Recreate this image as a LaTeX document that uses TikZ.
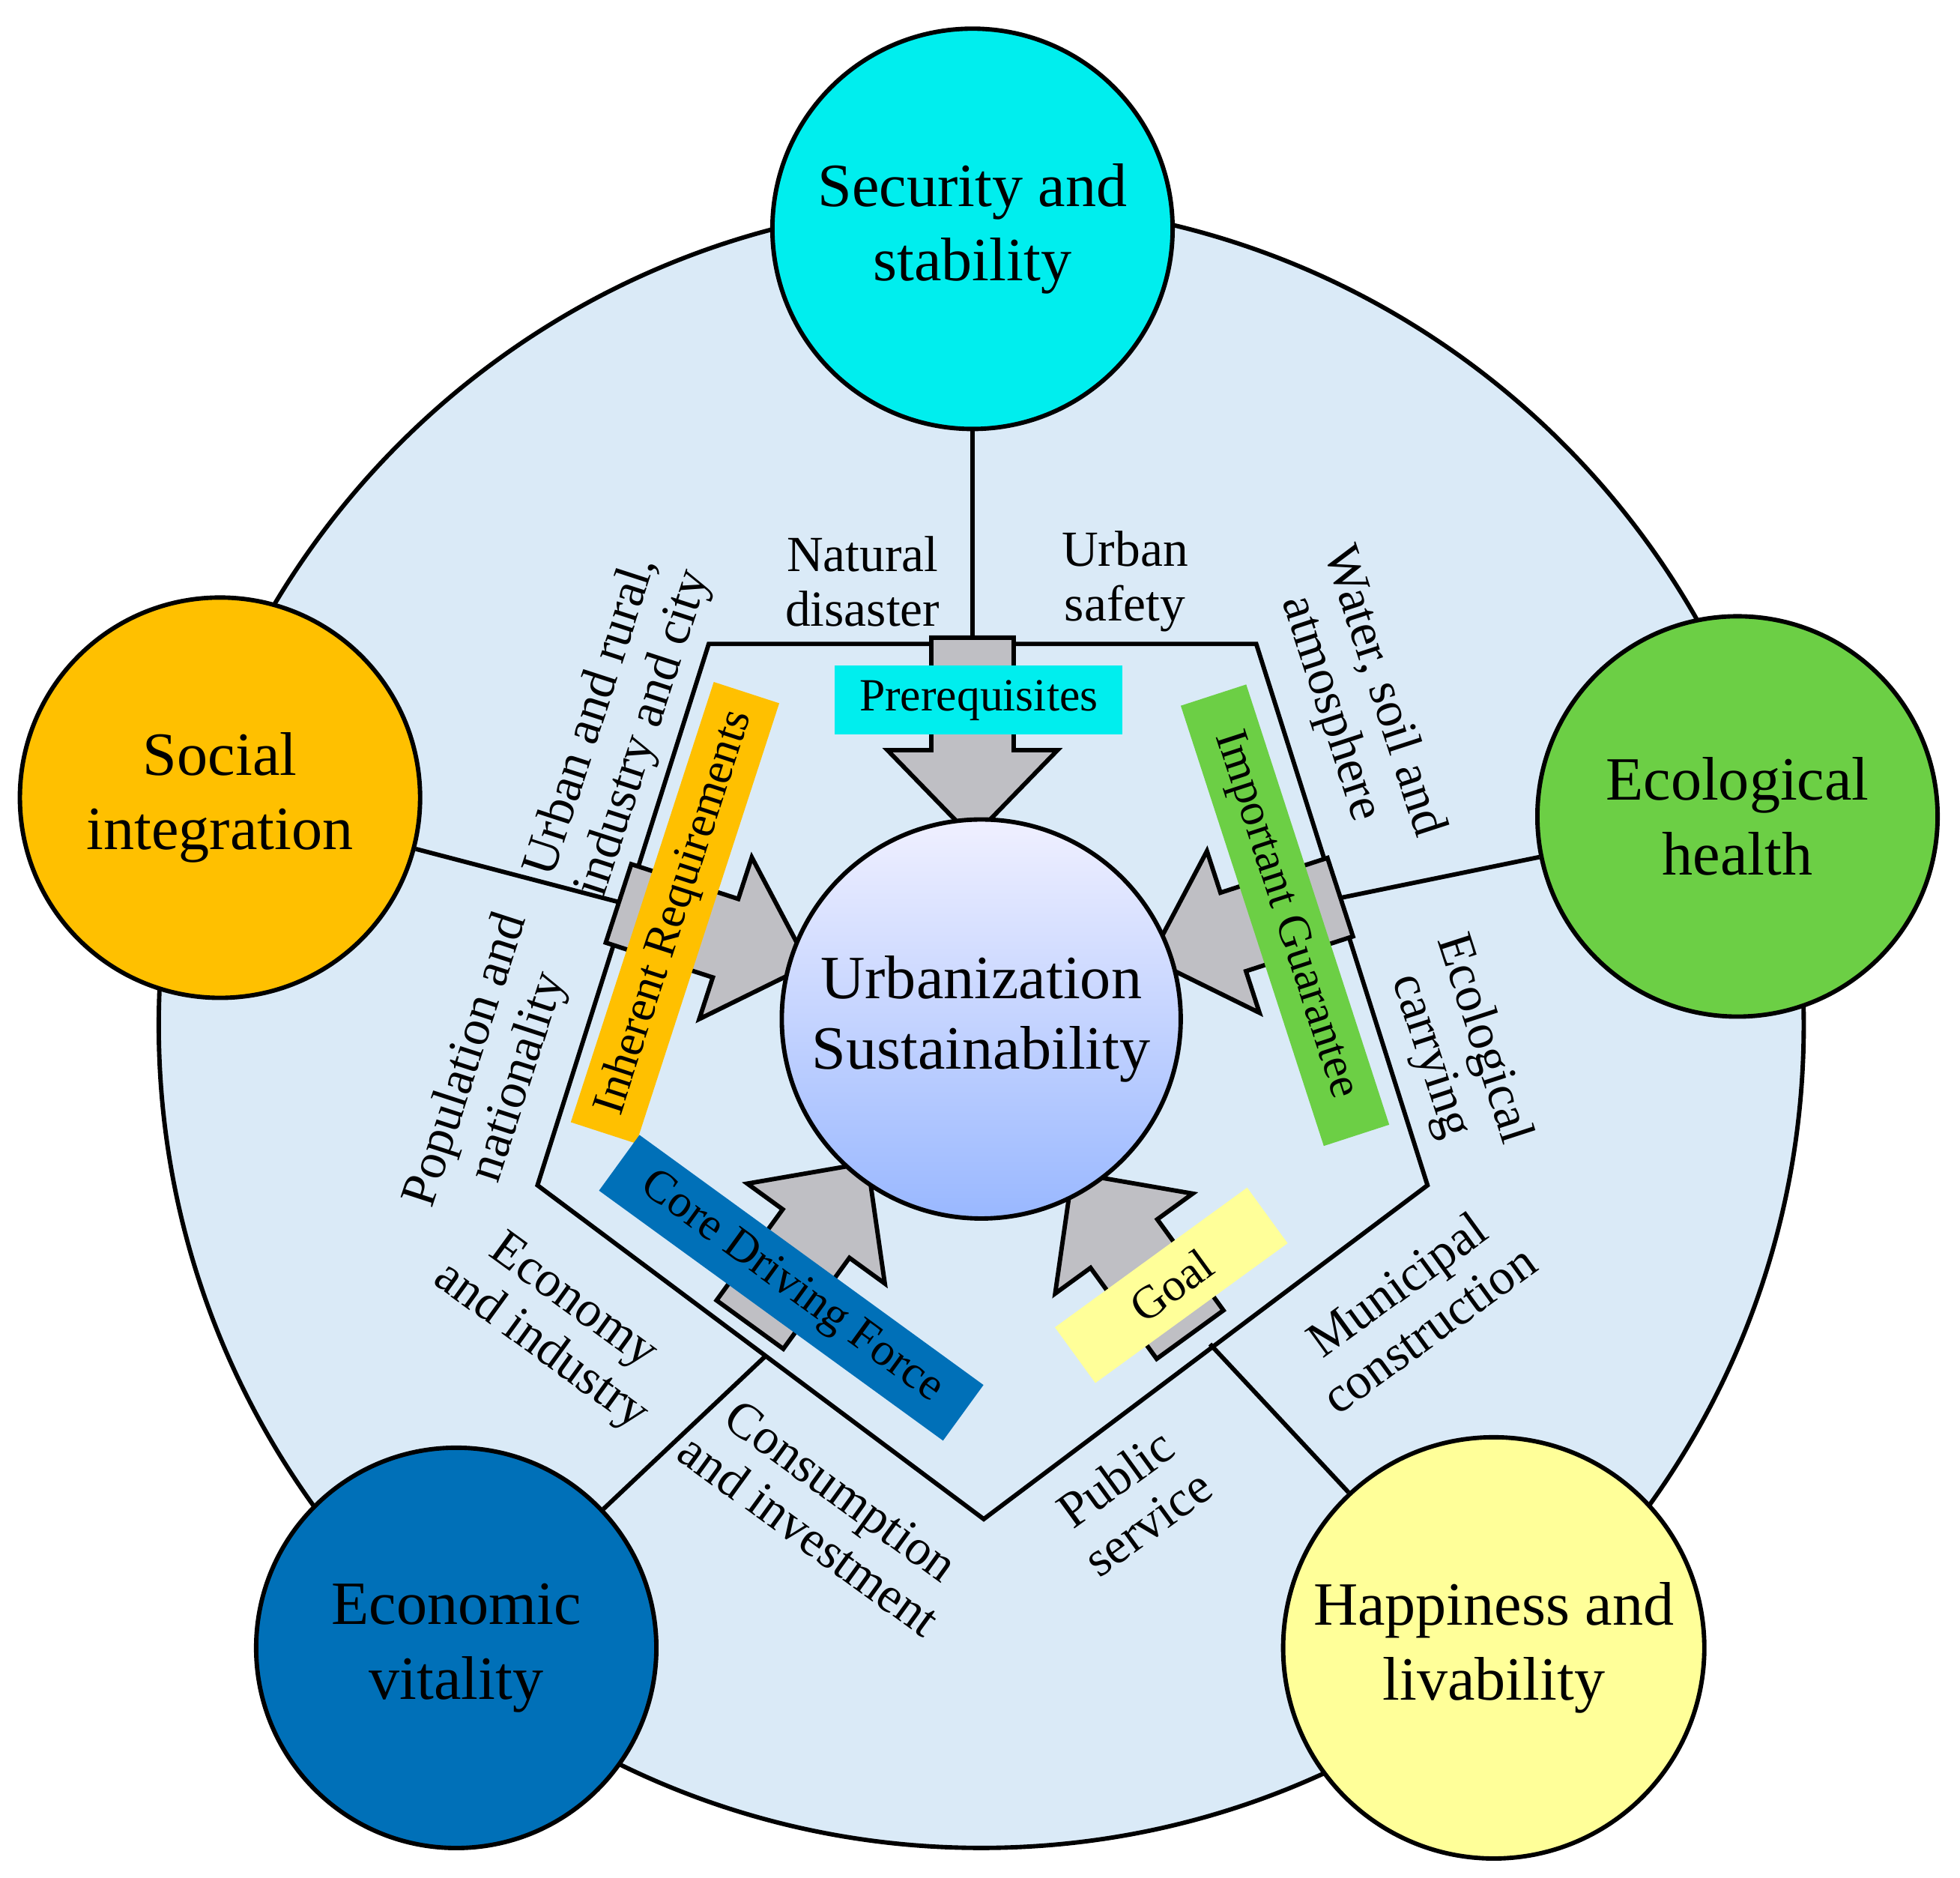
\documentclass[tikz,border=0pt]{standalone}
\usepackage{fontspec}
\setmainfont{Liberation Serif}
\usetikzlibrary{positioning}
\definecolor{bgblue}{HTML}{DAEAF7}
\definecolor{secur}{HTML}{00EEEE}
\definecolor{social}{HTML}{FFC000}
\definecolor{ecolo}{HTML}{6CCF45}
\definecolor{econ}{HTML}{0070B8}
\definecolor{happy}{HTML}{FFFF99}
\definecolor{arrowgray}{HTML}{BFBFC4}
\newcommand\fatarrow[3]{%
  \draw[fill=arrowgray,shift={(#1,#2)},rotate=#3] (0,0) -- (-70,68) -- (-70,33) -- (-160,33)
    -- (-160,-33) -- (-70,-33) -- (-70,-68) -- cycle;}
\begin{document}
\begin{tikzpicture}[x=0.01cm,y=-0.01cm,line width=1pt]
	\tikzstyle{pillar} = [draw,circle,minimum size=3.2cm,align=center,font=\fontsize{14}{17}\selectfont]
	\tikzstyle{side} = [align=center,font=\fontsize{11.5}{12.5}\selectfont]
	\tikzstyle{tag} = [minimum height=0.55cm,font=\fontsize{10.5}{12}\selectfont,inner sep=2pt]
	\useasboundingbox (0,0) rectangle (1568,1502);
	\fill[bgblue,draw=black] (785,820) circle (658);
	% pentagon corners and spoke feet
	\coordinate (ptl) at (567,515);
	\coordinate (ptr) at (1005,515);
	\coordinate (pr) at (1142,948);
	\coordinate (pb) at (787,1215);
	\coordinate (pl) at (430,948);
	\coordinate (ftop) at (778,515);
	\coordinate (fleft) at (497,722);
	\coordinate (fright) at (1073,718);
	\coordinate (fbl) at (612,1085);
	\coordinate (fbr) at (968,1075);
	\node (secur) [pillar,fill=secur] at (778,183) {Security and\\stability};
	\node (social) [pillar,fill=social] at (176,638) {Social\\integration};
	\node (ecolo) [pillar,fill=ecolo] at (1390,653) {Ecological\\health};
	\node (econ) [pillar,fill=econ] at (365,1318) {Economic\\vitality};
	\node (happy) [pillar,fill=happy] at (1195,1318) {Happiness and\\livability};
	\draw (secur) -- (ftop);
	\draw (social) -- (fleft);
	\draw (ecolo) -- (fright);
	\draw (econ) -- (fbl);
	\draw (happy) -- (fbr);
	\draw (ptl) -- (ptr) -- (pr) -- (pb) -- (pl) -- cycle;
	\fatarrow{778}{670}{-90}
	\fatarrow{647}{772}{-18}
	\fatarrow{920}{767}{198}
	\fatarrow{694}{930}{54}
	\fatarrow{858}{938}{126}
	\node (core) [draw,circle,minimum size=2.8cm,shading=axis,shading angle=45,top color=blue!6!white,bottom color=cyan!30!blue!40!white,align=center,font=\fontsize{14}{16}\selectfont] at (785,815) {Urbanization\\Sustainability};
	\node (prereq) [tag,fill=secur,minimum width=2.3cm] at (783,560) {Prerequisites};
	\node (inherent) [tag,fill=social,minimum width=3.7cm,rotate=72] at (540,730) {Inherent Requirements};
	\node (guarantee) [tag,fill=ecolo,minimum width=3.7cm,rotate=-72] at (1028,732) {Important Guarantee};
	\node (driving) [tag,fill=econ,minimum width=3.4cm,rotate=-36] at (633,1030) {Core Driving Force};
	\node (goal) [tag,fill=happy,minimum width=1.9cm,rotate=36] at (937,1028) {Goal};
	\node [side] at (690,465) {Natural\\disaster};
	\node [side] at (900,465) {Urban\\safety};
	\node [side,rotate=72] at (495,580) {Urban and rural,\\industry and city};
	\node [side,rotate=-72] at (1085,560) {Water, soil and\\atmosphere};
	\node [side,rotate=-72] at (1165,838) {Ecological\\carrying};
	\node [side,rotate=72] at (395,855) {Population and\\nationality};
	\node [side,rotate=-36] at (445,1060) {Economy\\and industry};
	\node [side,rotate=-36] at (660,1210) {Consumption\\and investment};
	\node [side,rotate=36] at (905,1200) {Public\\service};
	\node [side,rotate=36] at (1130,1045) {Municipal\\construction};
\end{tikzpicture}
\end{document}
